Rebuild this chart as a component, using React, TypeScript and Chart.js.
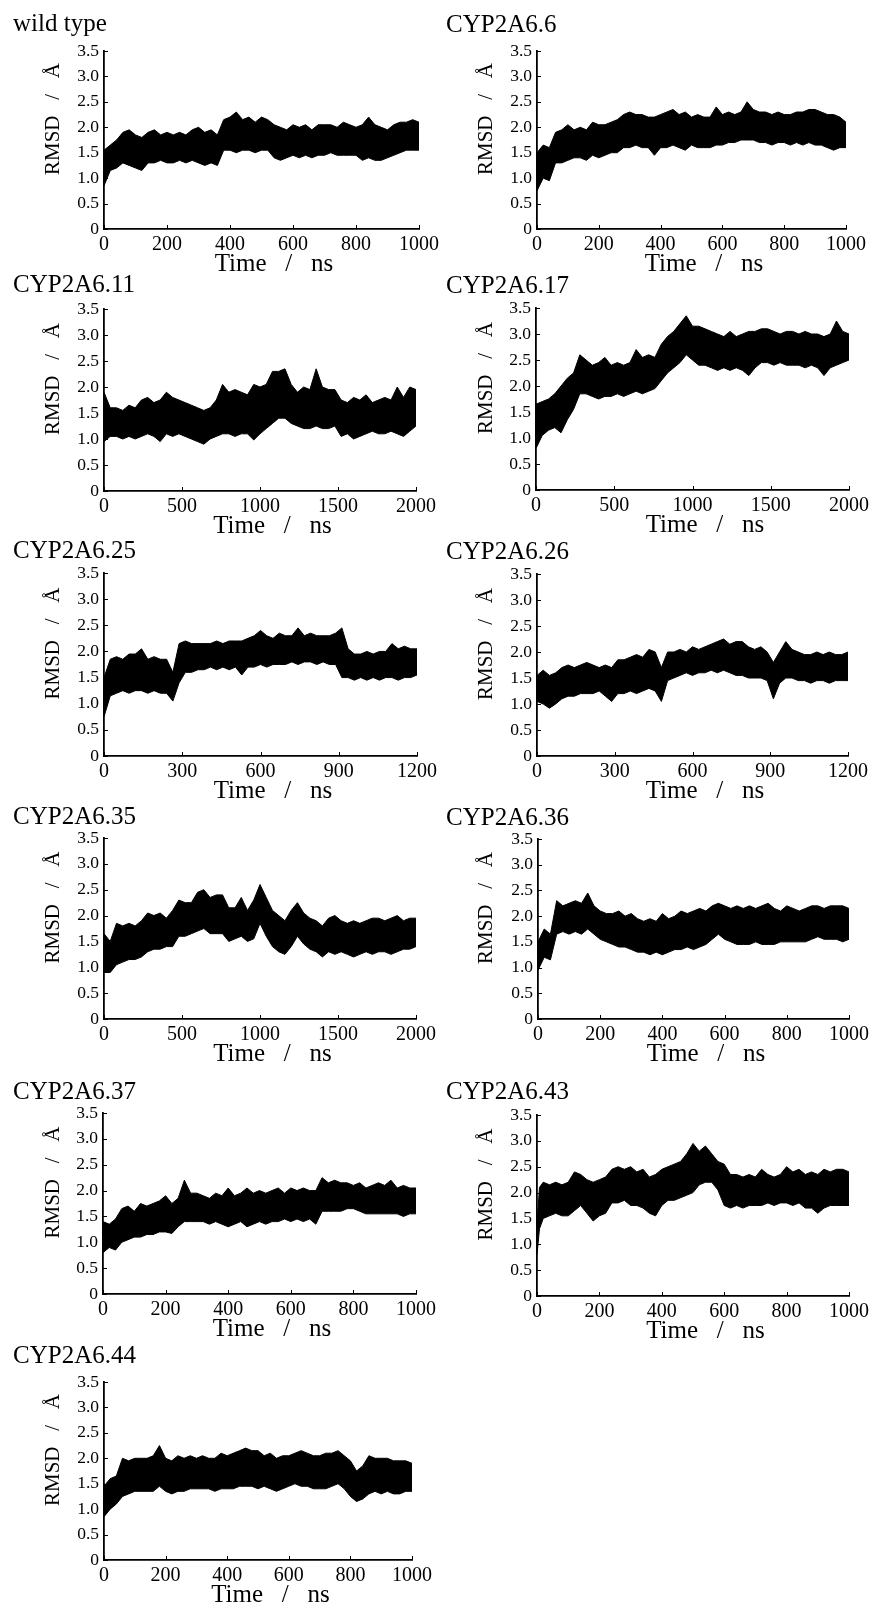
import React, { useEffect, useRef } from 'react';
import { Chart, registerables } from 'chart.js';

Chart.register(...registerables);
const SERIF = "'Liberation Serif', 'Times New Roman', serif";
Chart.defaults.font.family = SERIF;
Chart.defaults.color = '#000';

// ---------- sample times (ns) ----------
const T1000 = [0,20,40,60,80,100,120,140,160,180,200,220,240,260,280,300,320,340,360,380,400,420,440,460,480,500,520,540,560,580,600,620,640,660,680,700,720,740,760,780,800,820,840,860,880,900,920,940,960,980,1000];
const T43 = [0,8,20,40,60,80,100,120,140,160,180,200,220,240,260,280,300,320,340,360,380,400,420,440,460,480,500,520,540,560,580,600,620,640,660,680,700,720,740,760,780,800,820,840,860,880,900,920,940,960,980,1000];
const T1200 = [0,24,48,72,96,120,144,168,192,216,240,264,288,312,336,360,384,408,432,456,480,504,528,552,576,600,624,648,672,696,720,744,768,792,816,840,864,888,912,936,960,984,1008,1032,1056,1080,1104,1128,1152,1176,1200];
const T2000 = [0,40,80,120,160,200,240,280,320,360,400,440,480,520,560,600,640,680,720,760,800,840,880,920,960,1000,1040,1080,1120,1160,1200,1240,1280,1320,1360,1400,1440,1480,1520,1560,1600,1640,1680,1720,1760,1800,1840,1880,1920,1960,2000];

// ---------- tick values / labels ----------
const yTickValues = [0, 0.5, 1, 1.5, 2, 2.5, 3, 3.5];
const yTickLabels = ['0', '0.5', '1.0', '1.5', '2.0', '2.5', '3.0', '3.5'];
const xTicks1000 = [0, 200, 400, 600, 800, 1000];
const xTicks1200 = [0, 300, 600, 900, 1200];
const xTicks2000 = [0, 500, 1000, 1500, 2000];

const panelTitles = ['wild type', 'CYP2A6.6', 'CYP2A6.11', 'CYP2A6.17', 'CYP2A6.25', 'CYP2A6.26', 'CYP2A6.35', 'CYP2A6.36', 'CYP2A6.37', 'CYP2A6.43', 'CYP2A6.44'];
const xAxisTitle = '    Time   /   ns';
const yAxisTitle = '        RMSD   /   Å';

// ---------- RMSD envelopes (upper / lower edge of the fluctuating trace, Å) ----------
const wtUpper = [1.55,1.65,1.75,1.9,1.95,1.85,1.8,1.9,1.95,1.85,1.9,1.85,1.9,1.85,1.95,2.0,1.9,1.95,1.85,2.15,2.2,2.3,2.15,2.2,2.1,2.2,2.15,2.05,2.0,1.95,2.05,2.0,2.05,1.95,2.05,2.05,2.05,2.0,2.1,2.05,2.0,2.05,2.2,2.05,2.0,1.95,2.05,2.1,2.1,2.15,2.1];
const wtLower = [0.85,1.15,1.2,1.3,1.25,1.2,1.15,1.3,1.3,1.35,1.3,1.3,1.35,1.3,1.35,1.3,1.25,1.3,1.25,1.55,1.55,1.5,1.55,1.55,1.5,1.55,1.55,1.4,1.35,1.4,1.45,1.4,1.45,1.4,1.45,1.45,1.5,1.45,1.45,1.45,1.45,1.35,1.4,1.35,1.35,1.4,1.45,1.5,1.55,1.55,1.55];

const v6Upper = [1.5,1.65,1.6,1.9,1.95,2.05,1.95,2.0,1.95,2.1,2.05,2.05,2.1,2.15,2.25,2.3,2.25,2.25,2.2,2.2,2.25,2.3,2.35,2.25,2.3,2.2,2.25,2.2,2.2,2.4,2.25,2.3,2.25,2.3,2.5,2.35,2.3,2.3,2.25,2.3,2.25,2.25,2.3,2.3,2.35,2.35,2.3,2.25,2.25,2.2,2.1];
const v6Lower = [0.75,1.0,0.95,1.3,1.3,1.35,1.4,1.4,1.35,1.45,1.4,1.45,1.5,1.5,1.6,1.6,1.65,1.6,1.6,1.45,1.6,1.6,1.65,1.6,1.55,1.65,1.6,1.6,1.6,1.65,1.65,1.7,1.7,1.75,1.75,1.75,1.7,1.7,1.65,1.7,1.7,1.65,1.7,1.65,1.7,1.65,1.65,1.6,1.55,1.6,1.6];

const v11Upper = [1.9,1.6,1.6,1.55,1.65,1.6,1.75,1.8,1.7,1.75,1.9,1.8,1.75,1.7,1.65,1.6,1.55,1.6,1.75,2.05,1.9,1.95,1.9,1.85,2.05,2.0,2.05,2.3,2.3,2.35,2.05,1.9,2.0,1.95,2.35,2.0,1.95,1.95,1.75,1.7,1.8,1.75,1.85,1.7,1.75,1.8,1.75,2.0,1.8,2.0,1.95];
const v11Lower = [0.95,1.05,1.05,1.0,1.05,1.0,1.05,1.1,1.05,0.95,1.1,1.05,1.1,1.05,1.0,0.95,0.9,1.0,1.05,1.1,1.1,1.05,1.1,1.1,0.98,1.1,1.2,1.3,1.4,1.4,1.3,1.25,1.2,1.2,1.25,1.2,1.2,1.25,1.05,1.1,1.0,1.05,1.1,1.15,1.1,1.1,1.15,1.1,1.05,1.15,1.25];

const v17Upper = [1.65,1.7,1.75,1.85,2.0,2.15,2.25,2.6,2.5,2.4,2.45,2.55,2.4,2.45,2.4,2.45,2.7,2.55,2.6,2.55,2.8,2.95,3.05,3.2,3.35,3.15,3.15,3.1,3.05,3.0,2.95,3.05,2.95,3.0,3.05,3.05,3.1,3.1,3.05,3.0,3.05,3.05,3.0,3.05,3.0,3.0,2.95,3.0,3.25,3.05,3.0];
const v17Lower = [0.8,1.05,1.15,1.2,1.1,1.35,1.55,1.85,1.85,1.8,1.75,1.8,1.8,1.85,1.8,1.85,1.9,1.85,1.9,1.95,2.1,2.25,2.35,2.45,2.6,2.5,2.4,2.4,2.35,2.3,2.35,2.3,2.35,2.3,2.2,2.35,2.45,2.45,2.4,2.45,2.4,2.4,2.4,2.35,2.4,2.35,2.2,2.35,2.4,2.45,2.5];

const v25Upper = [1.5,1.85,1.9,1.85,1.95,1.95,2.05,1.85,1.9,1.85,1.85,1.6,2.15,2.2,2.15,2.15,2.15,2.15,2.2,2.15,2.2,2.2,2.2,2.25,2.3,2.4,2.3,2.25,2.35,2.3,2.3,2.45,2.3,2.35,2.3,2.3,2.3,2.35,2.45,2.05,1.95,1.95,2.0,1.95,2.0,2.0,2.15,2.05,2.1,2.05,2.05];
const v25Lower = [0.75,1.15,1.2,1.25,1.2,1.25,1.25,1.2,1.25,1.2,1.2,1.05,1.4,1.6,1.6,1.65,1.65,1.7,1.65,1.7,1.65,1.7,1.55,1.7,1.7,1.75,1.7,1.75,1.75,1.75,1.8,1.75,1.8,1.8,1.75,1.8,1.75,1.75,1.5,1.5,1.45,1.5,1.45,1.5,1.45,1.5,1.5,1.45,1.5,1.5,1.55];

const v26Upper = [1.55,1.65,1.55,1.6,1.7,1.75,1.7,1.75,1.8,1.75,1.7,1.75,1.7,1.85,1.85,1.9,1.95,1.9,2.05,2.0,1.7,2.0,2.0,2.05,2.0,2.1,2.05,2.1,2.15,2.2,2.25,2.15,2.2,2.2,2.1,2.05,2.1,2.0,1.8,2.0,2.2,2.05,2.0,1.95,1.95,2.0,1.95,2.0,1.95,1.95,2.0];
const v26Lower = [1.05,1.0,0.92,1.0,1.1,1.15,1.15,1.2,1.2,1.2,1.25,1.15,1.05,1.2,1.2,1.25,1.2,1.25,1.3,1.25,1.05,1.45,1.5,1.55,1.6,1.55,1.6,1.6,1.65,1.6,1.65,1.6,1.55,1.55,1.5,1.5,1.5,1.45,1.1,1.4,1.5,1.5,1.45,1.45,1.4,1.45,1.45,1.4,1.45,1.45,1.45];

const v35Upper = [1.65,1.5,1.85,1.8,1.85,1.8,1.9,2.05,2.0,2.05,1.95,2.1,2.3,2.25,2.25,2.45,2.5,2.35,2.4,2.4,2.15,2.15,2.35,2.1,2.3,2.6,2.35,2.1,2.0,1.9,2.1,2.25,2.05,1.95,1.9,1.8,1.95,2.0,1.9,1.85,1.9,1.85,1.9,1.95,1.95,1.9,1.95,2.0,1.9,1.95,1.95];
const v35Lower = [0.9,0.9,1.05,1.1,1.15,1.15,1.2,1.3,1.35,1.35,1.4,1.4,1.6,1.6,1.65,1.7,1.75,1.65,1.65,1.65,1.5,1.55,1.6,1.5,1.55,1.85,1.6,1.4,1.3,1.25,1.4,1.6,1.45,1.35,1.3,1.2,1.3,1.25,1.3,1.25,1.2,1.25,1.3,1.25,1.3,1.3,1.25,1.3,1.35,1.35,1.4];

const v36Upper = [1.5,1.75,1.65,2.3,2.2,2.25,2.3,2.25,2.45,2.2,2.1,2.05,2.05,2.1,2.0,2.05,1.95,1.9,1.95,1.9,2.05,1.95,2.0,2.1,2.05,2.1,2.15,2.1,2.2,2.25,2.2,2.15,2.2,2.15,2.2,2.15,2.2,2.25,2.15,2.1,2.2,2.15,2.1,2.15,2.2,2.2,2.15,2.2,2.2,2.2,2.15];
const v36Lower = [0.95,1.2,1.15,1.65,1.7,1.65,1.7,1.65,1.75,1.65,1.55,1.5,1.45,1.4,1.4,1.35,1.3,1.3,1.25,1.3,1.25,1.3,1.35,1.35,1.4,1.35,1.4,1.45,1.55,1.65,1.55,1.5,1.45,1.45,1.45,1.5,1.45,1.45,1.45,1.5,1.5,1.5,1.5,1.5,1.55,1.6,1.55,1.55,1.55,1.5,1.55];

const v37Upper = [1.4,1.35,1.45,1.65,1.7,1.6,1.75,1.7,1.75,1.8,1.9,1.75,1.85,2.2,1.95,1.95,1.9,1.85,1.95,1.9,2.05,1.9,1.95,2.05,1.95,2.0,1.95,2.0,2.05,1.95,2.05,2.0,2.05,2.0,2.0,2.25,2.15,2.2,2.15,2.15,2.1,2.15,2.05,2.1,2.15,2.1,2.2,2.05,2.1,2.05,2.05];
const v37Lower = [0.8,0.9,0.85,1.0,1.05,1.1,1.1,1.15,1.15,1.2,1.2,1.17,1.3,1.4,1.4,1.4,1.4,1.35,1.4,1.35,1.3,1.35,1.4,1.3,1.35,1.4,1.35,1.4,1.4,1.45,1.4,1.45,1.4,1.45,1.35,1.6,1.6,1.6,1.6,1.65,1.65,1.6,1.55,1.55,1.55,1.55,1.55,1.55,1.5,1.55,1.55];

const v43Upper = [1.4,2.1,2.2,2.15,2.2,2.15,2.2,2.4,2.35,2.25,2.2,2.25,2.3,2.45,2.5,2.45,2.5,2.4,2.45,2.3,2.35,2.45,2.5,2.55,2.6,2.75,2.95,2.8,2.9,2.75,2.6,2.55,2.35,2.35,2.3,2.35,2.3,2.45,2.35,2.3,2.35,2.5,2.4,2.45,2.35,2.4,2.35,2.45,2.4,2.45,2.45,2.4];
const v43Lower = [0.8,1.3,1.5,1.55,1.6,1.55,1.55,1.65,1.75,1.6,1.45,1.55,1.6,1.8,1.8,1.85,1.75,1.75,1.7,1.6,1.55,1.75,1.85,1.85,1.9,1.95,2.0,2.15,2.2,2.2,2.05,1.75,1.7,1.75,1.7,1.75,1.75,1.75,1.8,1.75,1.8,1.8,1.75,1.8,1.7,1.7,1.6,1.7,1.75,1.75,1.75,1.75];

const v44Upper = [1.45,1.6,1.65,2.0,1.95,2.0,2.0,2.0,2.05,2.25,2.0,1.95,2.05,2.0,2.05,2.0,2.05,2.0,2.0,2.1,2.05,2.1,2.15,2.2,2.15,2.15,2.05,2.1,2.0,2.05,2.05,2.1,2.15,2.1,2.05,2.05,2.1,2.1,2.15,2.05,1.95,1.75,1.85,2.05,2.0,2.0,2.0,1.95,1.95,1.95,1.9];
const v44Lower = [0.85,1.0,1.1,1.25,1.3,1.35,1.35,1.35,1.35,1.45,1.35,1.3,1.35,1.35,1.4,1.4,1.4,1.4,1.35,1.4,1.4,1.4,1.45,1.45,1.45,1.4,1.45,1.4,1.35,1.4,1.45,1.5,1.45,1.45,1.4,1.4,1.4,1.45,1.5,1.4,1.25,1.15,1.2,1.3,1.35,1.3,1.35,1.3,1.3,1.35,1.35];

// ---------- panel placement on the page (px) ----------
const LAYOUT = [
  { titleX: 13, axisLeft: 104, axisRight: 421, axisTop: 51, axisBottom: 229, gap: 18.7 },
  { titleX: 446, axisLeft: 537, axisRight: 848, axisTop: 51, axisBottom: 229, gap: 18 },
  { titleX: 13, axisLeft: 104, axisRight: 418, axisTop: 309, axisBottom: 491, gap: 16 },
  { titleX: 446, axisLeft: 536, axisRight: 852, axisTop: 308, axisBottom: 490, gap: 14.5 },
  { titleX: 13, axisLeft: 104, axisRight: 419, axisTop: 573, axisBottom: 756, gap: 14.5 },
  { titleX: 446, axisLeft: 537, axisRight: 850, axisTop: 574, axisBottom: 756, gap: 14.5 },
  { titleX: 13, axisLeft: 104, axisRight: 418, axisTop: 838, axisBottom: 1019, gap: 13.5 },
  { titleX: 446, axisLeft: 538, axisRight: 851, axisTop: 839, axisBottom: 1019, gap: 13.5 },
  { titleX: 13, axisLeft: 103, axisRight: 418, axisTop: 1113, axisBottom: 1294, gap: 13.5 },
  { titleX: 446, axisLeft: 537, axisRight: 851, axisTop: 1115, axisBottom: 1296, gap: 15 },
  { titleX: 13, axisLeft: 104, axisRight: 414, axisTop: 1382, axisBottom: 1560, gap: 18.4 },
];

const PANELS = [
  { time: T1000, upper: wtUpper, lower: wtLower, xTicks: xTicks1000 },
  { time: T1000, upper: v6Upper, lower: v6Lower, xTicks: xTicks1000 },
  { time: T2000, upper: v11Upper, lower: v11Lower, xTicks: xTicks2000 },
  { time: T2000, upper: v17Upper, lower: v17Lower, xTicks: xTicks2000 },
  { time: T1200, upper: v25Upper, lower: v25Lower, xTicks: xTicks1200 },
  { time: T1200, upper: v26Upper, lower: v26Lower, xTicks: xTicks1200 },
  { time: T2000, upper: v35Upper, lower: v35Lower, xTicks: xTicks2000 },
  { time: T1000, upper: v36Upper, lower: v36Lower, xTicks: xTicks1000 },
  { time: T1000, upper: v37Upper, lower: v37Lower, xTicks: xTicks1000 },
  { time: T43, upper: v43Upper, lower: v43Lower, xTicks: xTicks1000 },
  { time: T1000, upper: v44Upper, lower: v44Lower, xTicks: xTicks1000 },
];

const innerTicks = {
  id: 'innerTicks',
  afterDatasetsDraw(chart: any) {
    const { ctx, chartArea, scales } = chart;
    const x = scales.x;
    const y = scales.y;
    ctx.save();
    ctx.strokeStyle = '#000';
    ctx.lineWidth = 1;
    x.ticks.forEach((t: any) => {
      const px = Math.round(x.getPixelForValue(t.value)) + 0.5;
      ctx.beginPath();
      ctx.moveTo(px, chartArea.bottom);
      ctx.lineTo(px, chartArea.bottom - 4);
      ctx.stroke();
    });
    y.ticks.forEach((t: any) => {
      const py = Math.round(y.getPixelForValue(t.value)) + 0.5;
      ctx.beginPath();
      ctx.moveTo(chartArea.left, py);
      ctx.lineTo(chartArea.left + 4, py);
      ctx.stroke();
    });
    ctx.restore();
  },
};

function Panel({ index }: { index: number }) {
  const ref = useRef<HTMLCanvasElement | null>(null);
  const L = LAYOUT[index];
  const P = PANELS[index];
  const canvasLeft = Math.round(L.titleX);
  const canvasTop = Math.round(L.axisTop - 30 - (L.gap - 7));
  const titlePadBottom = L.axisTop - canvasTop - 30;
  const padRight = Math.min(22, 873 - L.axisRight);
  const width = Math.round(L.axisRight - canvasLeft + padRight);
  const height = Math.round(L.axisBottom + 50 - canvasTop);
  const yWidth = L.axisLeft - canvasLeft;
  const xMax = P.xTicks[P.xTicks.length - 1];

  useEffect(() => {
    if (!ref.current) return;
    const chart = new Chart(ref.current, {
      type: 'line',
      data: {
        datasets: [
          {
            data: P.time.map((t, i) => ({ x: t, y: P.lower[i] })),
            borderColor: '#000',
            borderWidth: 1,
            pointRadius: 0,
            fill: false,
            tension: 0,
          },
          {
            data: P.time.map((t, i) => ({ x: t, y: P.upper[i] })),
            borderColor: '#000',
            borderWidth: 1,
            pointRadius: 0,
            fill: '-1',
            backgroundColor: '#000',
            tension: 0,
          },
        ],
      },
      options: {
        animation: false,
        responsive: false,
        devicePixelRatio: 1,
        layout: { padding: { left: 0, top: 0, right: padRight, bottom: 0 } },
        plugins: {
          legend: { display: false },
          tooltip: { enabled: false },
          title: {
            display: true,
            text: panelTitles[index],
            align: 'start',
            color: '#000',
            font: { family: SERIF, size: 25, weight: 'normal', lineHeight: 1.2 },
            padding: { top: 0, bottom: titlePadBottom },
          },
        },
        scales: {
          x: {
            type: 'linear',
            min: 0,
            max: xMax,
            afterBuildTicks: (s: any) => {
              s.ticks = P.xTicks.map((v) => ({ value: v }));
            },
            afterFit: (s: any) => {
              s.height = 50;
            },
            grid: { display: false, drawTicks: false },
            border: { display: true, color: '#000', width: 1.8 },
            ticks: {
              color: '#000',
              font: { family: SERIF, size: 20, weight: 'normal' },
              padding: 4,
              maxRotation: 0,
              autoSkip: false,
              callback: (v: any) => String(v),
            },
            title: {
              display: true,
              text: xAxisTitle,
              color: '#000',
              font: { family: SERIF, size: 25, weight: 'normal', lineHeight: 1.2 },
              padding: { top: 0, bottom: 0 },
            },
          },
          y: {
            type: 'linear',
            min: 0,
            max: 3.5,
            afterBuildTicks: (s: any) => {
              s.ticks = yTickValues.map((v) => ({ value: v }));
            },
            afterFit: (s: any) => {
              s.width = yWidth;
            },
            grid: { display: false, drawTicks: false },
            border: { display: true, color: '#000', width: 1.8 },
            ticks: {
              color: '#000',
              font: { family: SERIF, size: 17.5, weight: 'normal' },
              padding: 5,
              autoSkip: false,
              callback: (v: any) => {
                const k = yTickValues.indexOf(Number(v));
                return k >= 0 ? yTickLabels[k] : '';
              },
            },
            title: {
              display: true,
              text: yAxisTitle,
              color: '#000',
              font: { family: SERIF, size: 21, weight: 'normal', lineHeight: 1.2 },
              padding: { top: 28, bottom: 0 },
            },
          },
        },
      },
      plugins: [innerTicks],
    } as any);
    return () => chart.destroy();
  }, []);

  return (
    <canvas
      ref={ref}
      width={width}
      height={height}
      style={{ position: 'absolute', left: canvasLeft, top: canvasTop, width, height }}
    />
  );
}

export default function App() {
  return (
    <div
      style={{
        position: 'absolute',
        left: 0,
        top: 0,
        width: 873,
        height: 1606,
        overflow: 'hidden',
        background: '#fff',
      }}
    >
      {PANELS.map((_, i) => (
        <Panel key={i} index={i} />
      ))}
    </div>
  );
}
